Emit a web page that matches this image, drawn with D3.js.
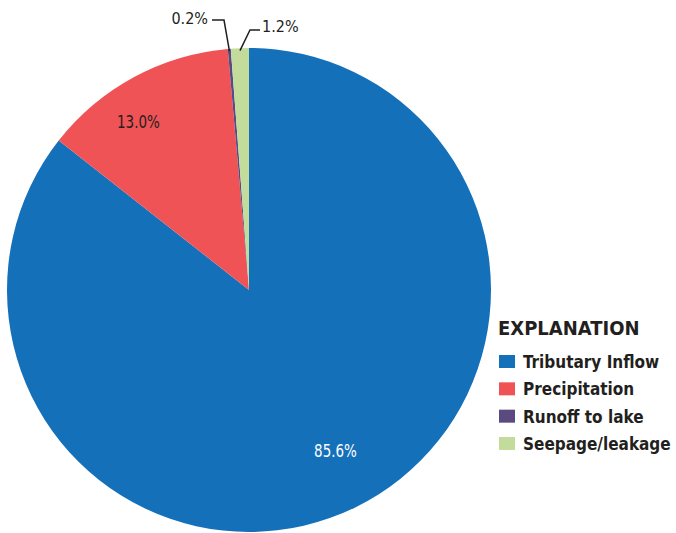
<!DOCTYPE html>
<html><head><meta charset="utf-8">
<script src="https://cdn.jsdelivr.net/npm/d3@7"></script>
<style>
body{margin:0;background:#fff;}
text{font-family:"DejaVu Sans Condensed","Liberation Sans Narrow",sans-serif;}
</style></head>
<body><svg id="c" width="676" height="533"></svg>
<script>
const categories = ["Tributary Inflow","Precipitation","Runoff to lake","Seepage/leakage"];
const values = [85.6, 13.0, 0.2, 1.2];
const labels = ["85.6%","13.0%","0.2%","1.2%"];
const colors = ["#1570BA","#F05356","#5A4A7F","#C4DC9B"];

const svg = d3.select("#c");
const cx = 249, cy = 290, R = 242;
const g = svg.append("g").attr("transform",`translate(${cx},${cy})`);
const pie = d3.pie().sort(null).value(d=>d)(values);
const arc = d3.arc().innerRadius(0).outerRadius(R);
g.selectAll("path").data(pie).enter().append("path")
  .attr("d",arc).attr("fill",(d,i)=>colors[i]);

function placeText(a, r, txt, fill){
  g.append("text").attr("x",Math.sin(a)*R*r).attr("y",-Math.cos(a)*R*r)
   .attr("text-anchor","middle").attr("dominant-baseline","central")
   .attr("fill",fill).attr("font-size",17)
   .attr("transform",`translate(${Math.sin(a)*R*r},${-Math.cos(a)*R*r}) scale(0.88,1) translate(${-Math.sin(a)*R*r},${Math.cos(a)*R*r})`)
   .text(txt);
}
placeText(2.65, 0.757, labels[0], "#fff");
placeText(5.70, 0.83, labels[1], "#231F20");

function edge(d, r){ const a=(d.startAngle+d.endAngle)/2; return [cx+Math.sin(a)*R*r, cy-Math.cos(a)*R*r]; }
{
  const [x0,y0]=edge(pie[2],0.99);
  svg.append("polyline").attr("points",`${x0},${y0} ${224},${20} ${212},${20}`)
    .attr("fill","none").attr("stroke","#231F20").attr("stroke-width",1.5);
  svg.append("text").attr("x",208).attr("y",24).attr("text-anchor","end")
    .attr("fill","#231F20").attr("font-size",16).text(labels[2]);
}
{
  const [x0,y0]=edge(pie[3],0.99);
  svg.append("polyline").attr("points",`${x0},${y0} ${250},${30} ${260},${30}`)
    .attr("fill","none").attr("stroke","#231F20").attr("stroke-width",1.5);
  svg.append("text").attr("x",262).attr("y",32).attr("text-anchor","start")
    .attr("fill","#231F20").attr("font-size",16).text(labels[3]);
}
const lg = svg.append("g");
lg.append("text").attr("x",498).attr("y",335).attr("font-size",20).attr("font-weight","bold")
  .attr("fill","#231F20").text("EXPLANATION");
const rowY = d3.scalePoint().domain(categories).range([362,444]);
categories.forEach((c,i)=>{
  const y=rowY(c);
  lg.append("rect").attr("x",499).attr("y",y-7).attr("width",16).attr("height",13).attr("fill",colors[i]);
  lg.append("text").attr("x",523).attr("y",y+6).attr("font-size",17).attr("font-weight","bold")
    .attr("fill","#231F20").text(c);
});
</script></body></html>
